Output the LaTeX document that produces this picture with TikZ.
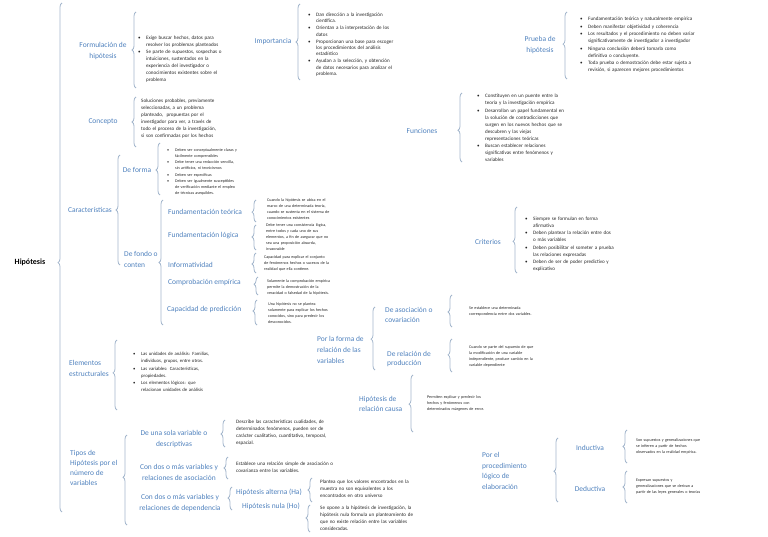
\documentclass[tikz,border=0pt]{standalone}
\usepackage{fontspec}
\setmainfont{Carlito}
\usepackage{tikz}
\usetikzlibrary{decorations.pathreplacing}
\definecolor{hpBlue}{HTML}{4F81BD}
\definecolor{hpMist}{HTML}{A3B6CC}
\definecolor{hpInk}{HTML}{262626}
\newcommand{\hpitem}{\par\noindent\hangindent=8pt\hangafter=1\makebox[8pt][l]{\textbullet}}
\tikzset{
  map root/.style={font=\fontsize{8}{10}\selectfont\bfseries,text=black,inner sep=0pt},
  map label/.style={font=\fontsize{7.5}{11}\selectfont,text=hpBlue,inner sep=0pt,align=center},
  map note/.style={font=\fontsize{5.1}{7}\selectfont,text=hpInk,inner sep=0pt,anchor=west,
    text width=135pt,align=left,execute at begin node=\setlength{\parskip}{0.6pt},
    execute at end node=\par},
  small note/.style={map note,font=\fontsize{4.1}{6}\selectfont},
  map brace/.style={draw=hpMist,line width=0.8pt,decorate,decoration={brace,amplitude=4pt}}
}
\begin{document}
\begin{tikzpicture}[x=1bp,y=-1bp]
\useasboundingbox (0,0) rectangle (768,537);
\node[map root] (hip) at (30,262) {Hipótesis};
% left column
\node[map label] (formul) at (103,51) {Formulación de\\hipótesis};
\node[map note] (formul-txt) at (138,57) {\hpitem Exige buscar hechos, datos para\newline resolver los problemas planteados
  \hpitem Se parte de supuestos, sospechas o\newline intuiciones, sustentados en la\newline experiencia del investigador o\newline conocimientos existentes sobre el\newline problema\par};
\node[map label] (concepto) at (103,122) {Concepto};
\node[map note] (concepto-txt) at (141,119) {Soluciones probables, previamente\\seleccionadas, a un problema\\planteado,~ propuestas por el\\investigador para ver, a través de\\todo el proceso de la investigación,\\si son confirmadas por los hechos};
\node[map label] (caract) at (90,210) {Características};
\node[map label] (deforma) at (137,170) {De forma};
\node[small note] (deforma-txt) at (167,170) {\hpitem Deben ser conceptualmente claras y\newline fácilmente comprensibles
  \hpitem Debe tener una redacción sencilla,\newline sin artificios, ni tecnicismos
  \hpitem Deben ser específicas
  \hpitem Deben ser igualmente susceptibles\newline de verificación mediante el empleo\newline de técnicas asequibles.\par};
\node[map label,anchor=west,align=left] (defondo) at (124,259) {De fondo o\\conten};
\node[map label,anchor=west] (fteo) at (168,212) {Fundamentación teórica};
\node[small note] (fteo-txt) at (267,209) {Cuando la hipótesis se ubica en el\\marco de una determinada teoría,\\cuando se sustenta en el sistema de\\conocimientos existentes};
\node[map label,anchor=west] (flog) at (168,236) {Fundamentación lógica};
\node[small note] (flog-txt) at (266,237) {Debe tener una consistencia lógica,\\entre todos y cada uno de sus\\elementos, a fin de asegurar que no\\sea una proposición absurda,\\irrazonable};
\node[map label,anchor=west] (infor) at (168,265) {Informatividad};
\node[small note] (infor-txt) at (264,263) {Capacidad para explicar el conjunto\\de fenómenos hechos o sucesos de la\\realidad que ella contiene.};
\node[map label,anchor=west] (compr) at (168,283) {Comprobación empírica};
\node[small note] (compr-txt) at (267,287) {Solamente la comprobación empírica\\permite la demostración de la\\veracidad o falsedad de la hipótesis.};
\node[map label,anchor=west] (cappred) at (167,310) {Capacidad de predicción};
\node[small note] (cappred-txt) at (268,313) {Una hipótesis no se plantea\\solamente para explicar los hechos\\conocidos, sino para predecir los\\desconocidos.};
\node[map label,anchor=west,align=left] (elem) at (69,368) {Elementos\\estructurales};
\node[map note,font=\fontsize{4.8}{7}\selectfont] (elem-txt) at (133,370) {\hpitem Las unidades de análisis: Familias,\newline individuos, grupos, entre otros.
  \hpitem Las variables: Características,\newline propiedades.
  \hpitem Los elementos lógicos: que\newline relacionan unidades de análisis\par};
\node[map label,anchor=west,align=left,font=\fontsize{7.5}{10}\selectfont] (tipos) at (70,468) {Tipos de\\Hipótesis por el\\número de\\variables};
\node[map label] (deuna) at (174,439) {De una sola variable o\\descriptivas};
\node[map note] (deuna-txt) at (236,433) {Describe las características cualidades, de\\determinados fenómenos, pueden ser de\\carácter cualitativo, cuantitativo, temporal,\\espacial.};
\node[map label] (conasoc) at (179,472) {Con dos o más variables y\\relaciones de asociación};
\node[map note] (conasoc-txt) at (236,467) {Establece una relación simple de asociación o\\covarianza entre las variables.};
\node[map label] (condep) at (180,503) {Con dos o más variables y\\relaciones de dependencia};
\node[map label] (halt) at (269,492) {Hipótesis alterna (Ha)};
\node[map note] (halt-txt) at (320,489) {Plantea que los valores encontrados en la\\muestra no son equivalentes a los\\encontrados en otro universo};
\node[map label] (hnul) at (271,506) {Hipótesis nula (Ho)};
\node[map note] (hnul-txt) at (320,518) {Se opone a la hipótesis de investigación, la\\hipótesis nula formula un planteamiento de\\que no existe relación entre las variables\\consideradas.};
% right side
\node[map label] (imp) at (273,42) {Importancia};
\node[map note,font=\fontsize{5.1}{6.4}\selectfont] (imp-txt) at (308,43) {\hpitem Dan dirección a la investigación\newline científica.
  \hpitem Orientan a la interpretación de los\newline datos
  \hpitem Proporcionan una base para escoger\newline los procedimientos del análisis\newline estadístico
  \hpitem Ayudan a la selección, y obtención\newline de datos necesarios para analizar el\newline problema.\par};
\node[map label] (prueba) at (540,45) {Prueba de\\hipótesis};
\node[map note] (prueba-txt) at (580,43) {\hpitem Fundamentación teórica y naturalmente empírica
  \hpitem Deben manifestar objetividad y coherencia
  \hpitem Los resultados y el procedimiento no deben variar\newline significativamente de investigador a investigador
  \hpitem Ninguna conclusión deberá tomarla como\newline definitiva o concluyente.
  \hpitem Toda prueba o demostración debe estar sujeta a\newline revisión, si aparecen mejores procedimientos\par};
\node[map label] (func) at (422,131) {Funciones};
\node[map note] (func-txt) at (477,126) {\hpitem Constituyen en un puente entre la\newline teoría y la investigación empírica
  \hpitem Desarrollan un papel fundamental en\newline la solución de contradicciones que\newline surgen en los nuevos hechos que se\newline descubren y las viejas\newline representaciones teóricas
  \hpitem Buscan establecer relaciones\newline significativas entre fenómenos y\newline variables\par};
\node[map label] (crit) at (488,242) {Criterios};
\node[map note] (crit-txt) at (525,242) {\hpitem Siempre se formulan en forma\newline afirmativa
  \hpitem Deben plantear la relación entre dos\newline o más variables
  \hpitem Deben posibilitar el someter a prueba\newline las relaciones expresadas
  \hpitem Deben de ser de poder predictivo y\newline explicativo\par};
\node[map label,anchor=west,align=left] (porforma) at (317,350) {Por la forma de\\relación de las\\variables};
\node[map label,anchor=west,align=left,font=\fontsize{7.5}{10}\selectfont] (deasoc) at (385,315) {De asociación o\\covariación};
\node[small note] (deasoc-txt) at (469,311) {Se establece una determinada\\correspondencia entre dos variables.};
\node[map label,anchor=west,align=left,font=\fontsize{7.5}{10}\selectfont] (derel) at (387,359) {De relación de\\producción};
\node[small note] (derel-txt) at (469,356) {Cuando se parte del supuesto de que\\la modificación de una variable\\independiente, produce cambio en la\\variable dependiente};
\node[map label,anchor=west,align=left,font=\fontsize{7.5}{10}\selectfont] (hcausa) at (359,404) {Hipótesis de\\relación causa};
\node[small note] (hcausa-txt) at (427,403) {Permiten explicar y predecir los\\hechos y fenómenos con\\determinados márgenes de error.};
\node[map label,anchor=west,align=left,font=\fontsize{7.5}{10.5}\selectfont] (porproc) at (482,471) {Por el\\procedimiento\\lógico de\\elaboración};
\node[map label] (induct) at (590,448) {Inductiva};
\node[small note] (induct-txt) at (636,446) {Son supuestos y generalizaciones que\\se infieren a partir de hechos\\observados en la realidad empírica.};
\node[map label] (deduct) at (590,489) {Deductiva};
\node[small note] (deduct-txt) at (636,487) {Expresan supuestos y\\generalizaciones que se derivan a\\partir de las leyes generales o teorías};
% braces: name / x / top / bottom / tip position
\foreach \n/\x/\t/\b/\a in {hip/62/3/512/0.49, formul/136/12/88/0.5, concepto/136/97/147/0.5,
  caract/120/155/265/0.5, deforma/160/143/195/0.48, defondo/163/200/325/0.5,
  fteo/256/200/222/0.45, flog/256/225/250/0.52, infor/256/253/273/0.45,
  compr/258/277/295/0.6, cappred/257/300/325/0.56, elem/117/340/410/0.53,
  tipos/127/435/525/0.53, deuna/225/420/447/0.48, conasoc/228/457/479/0.5,
  condep/232/487/510/0.52, halt/312/478/502/0.5, hnul/310/505/532/0.52,
  imp/300/4/80/0.5, prueba/567/12/79/0.52, func/462/93/162/0.46, crit/517/207/273/0.48,
  porforma/375/307/370/0.49, deasoc/452/295/327/0.47, derel/452/339/372/0.52,
  hcausa/413/375/432/0.49, porproc/558/438/502/0.48, induct/627/430/463/0.5,
  deduct/627/471/503/0.5}{
  \coordinate (\n-top) at (\x,\t);
  \coordinate (\n-bot) at (\x,\b);
  \draw[map brace,decoration={aspect=\a}] (\n-bot) -- (\n-top);
}
\end{tikzpicture}
\end{document}
